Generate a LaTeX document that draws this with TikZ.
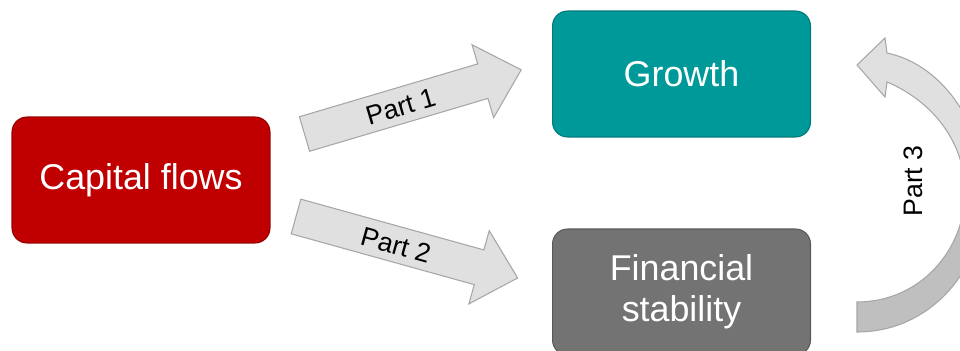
\documentclass[tikz,border=0pt]{standalone}
\usepackage{fontspec}
\setmainfont{Liberation Sans}
\definecolor{capred}{HTML}{C00000}
\definecolor{capredline}{HTML}{9A0000}
\definecolor{teal}{HTML}{009999}
\definecolor{tealline}{HTML}{007A7A}
\definecolor{fingray}{HTML}{737373}
\definecolor{fingrayline}{HTML}{5A5A5A}
\definecolor{arrowfill}{HTML}{E0E0E0}
\definecolor{arrowline}{HTML}{A6A6A6}
\definecolor{arrowdark}{HTML}{BFBFBF}
\begin{document}
\begin{tikzpicture}[x=0.02cm,y=-0.02cm,
  box/.style={rectangle, rounded corners=0.3cm, minimum width=5.16cm, minimum height=2.52cm,
    inner sep=0pt, align=center, text=white, line width=0.6pt,
    font=\fontsize{20.4}{23.5}\selectfont},
  blockarrow/.style={fill=arrowfill, draw=arrowline, line width=0.6pt, line join=miter},
  darkpart/.style={fill=arrowdark, draw=arrowline, line width=0.6pt},
  partlabel/.style={inner sep=0pt, text=black, font=\fontsize{15.2}{17}\selectfont}]
\useasboundingbox (0,0) rectangle (960,351);
\clip (0,0) rectangle (960,351);

% boxes
\node[box, fill=capred, draw=capredline] (cap) at (141,180) {Capital flows};
\node[box, fill=teal, draw=tealline] (growth) at (681.5,74) {Growth};
\node[box, fill=fingray, draw=fingrayline] (fin) at (681.5,292) {Financial\\stability};

% Part 1 arrow
\begin{scope}[shift={(304.5,134)}, rotate=16.5]
  \draw[blockarrow] (0,-18) -- (186,-18) -- (186,-38) -- (226,0) -- (186,38) -- (186,18) -- (0,18) -- cycle;
  \node[partlabel, rotate=16.5] (p1) at (100,1) {Part 1};
\end{scope}

% Part 2 arrow
\begin{scope}[shift={(296,216.5)}, rotate=-15.5]
  \draw[blockarrow] (0,-18) -- (190,-18) -- (190,-38) -- (230,0) -- (190,38) -- (190,18) -- (0,18) -- cycle;
  \node[partlabel, rotate=-15.5] (p2) at (104,1) {Part 2};
\end{scope}

% Part 3 curved arrow
\draw[darkpart] (985,192) .. controls (985,270) and (930,332) .. (857,332)
  -- (857,302) .. controls (920,302) and (965,250) .. (965,192) -- cycle;
\draw[blockarrow] (857,65) -- (885,38) -- (887,53) .. controls (945,65) and (985,130) .. (985,192)
  -- (965,192) .. controls (965,140) and (930,100) .. (887,82) -- (885,97) -- cycle;
\node[partlabel, rotate=90] (p3) at (913,181) {Part 3};
\end{tikzpicture}
\end{document}
